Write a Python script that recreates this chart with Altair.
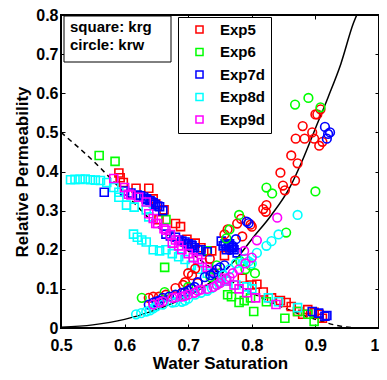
import altair as alt
import pandas as pd

# ---------------- model curves ----------------
krw_model_sw = [0.50, 0.55, 0.60, 0.65, 0.70, 0.75, 0.78, 0.80, 0.83, 0.86, 0.88, 0.90, 0.92, 0.94, 0.96, 0.965]
krw_model_kr = [0.002, 0.008, 0.022, 0.047, 0.082, 0.135, 0.185, 0.227, 0.287, 0.36, 0.43, 0.51, 0.59, 0.675, 0.78, 0.80]
krg_model_sw = [0.50, 0.55, 0.60, 0.65, 0.70, 0.75, 0.80, 0.85, 0.90, 0.93, 0.96, 1.00]
krg_model_kr = [0.50, 0.428, 0.345, 0.262, 0.197, 0.138, 0.09, 0.052, 0.022, 0.008, 0.001, 0.0]

experiments = ["Exp5", "Exp6", "Exp7d", "Exp8d", "Exp9d"]
colors = ["#ff0000", "#00ff00", "#0000ff", "#00ffff", "#ff00ff"]

# ---------------- Exp5 ----------------
exp5_krg_sw = [0.591, 0.593, 0.598, 0.618, 0.638, 0.645, 0.649, 0.662, 0.654, 0.68, 0.688, 0.698, 0.711, 0.72,
               0.737, 0.757, 0.785, 0.80, 0.808, 0.818, 0.831, 0.845, 0.854, 0.862, 0.872, 0.88, 0.888, 0.898,
               0.906, 0.911]
exp5_krg_kr = [0.396, 0.384, 0.372, 0.357, 0.357, 0.33, 0.317, 0.302, 0.277, 0.267, 0.259, 0.227, 0.217, 0.205,
               0.197, 0.185, 0.127, 0.11, 0.112, 0.092, 0.077, 0.07, 0.065, 0.055, 0.042, 0.035, 0.047, 0.04,
               0.035, 0.025]
exp5_krw_sw = [0.638, 0.645, 0.654, 0.665, 0.68, 0.692, 0.695, 0.70, 0.706, 0.711, 0.715, 0.734, 0.757, 0.762,
               0.777, 0.785, 0.783, 0.798, 0.80, 0.818, 0.822, 0.823, 0.845, 0.849, 0.852, 0.862, 0.868, 0.872,
               0.869, 0.88, 0.883, 0.895, 0.898, 0.90, 0.903, 0.906, 0.908, 0.911]
exp5_krw_kr = [0.077, 0.08, 0.08, 0.085, 0.102, 0.11, 0.117, 0.14, 0.135, 0.152, 0.115, 0.177, 0.239, 0.252,
               0.267, 0.234, 0.279, 0.264, 0.259, 0.304, 0.297, 0.314, 0.397, 0.364, 0.352, 0.441, 0.377, 0.421,
               0.484, 0.516, 0.484, 0.50, 0.484, 0.546, 0.546, 0.466, 0.559, 0.476]

# ---------------- Exp6 ----------------
exp6_krg_sw = [0.56, 0.585, 0.665, 0.663, 0.729, 0.762, 0.768, 0.78, 0.788, 0.798, 0.803, 0.823, 0.852, 0.872,
               0.888, 0.898]
exp6_krg_kr = [0.441, 0.426, 0.277, 0.155, 0.197, 0.085, 0.08, 0.065, 0.07, 0.077, 0.042, 0.067, 0.025, 0.042,
               0.035, 0.017]
exp6_krw_sw = [0.627, 0.663, 0.70, 0.735, 0.745, 0.76, 0.765, 0.78, 0.782, 0.79, 0.798, 0.805, 0.823, 0.832,
               0.854, 0.868, 0.889, 0.90, 0.908]
exp6_krw_kr = [0.077, 0.092, 0.105, 0.13, 0.16, 0.229, 0.252, 0.289, 0.17, 0.15, 0.16, 0.14, 0.359, 0.344,
               0.244, 0.571, 0.588, 0.349, 0.564]

# ---------------- Exp7d ----------------
exp7_krg_sw = [0.568, 0.60, 0.61, 0.62, 0.625, 0.63, 0.634, 0.635, 0.64, 0.642, 0.645, 0.648, 0.652, 0.655, 0.66,
               0.665, 0.672, 0.68, 0.685, 0.69, 0.695, 0.70, 0.705, 0.706, 0.71, 0.715, 0.72, 0.73, 0.752, 0.755,
               0.758, 0.76, 0.763, 0.765, 0.768, 0.77, 0.772, 0.777, 0.895, 0.905, 0.915, 0.918]
exp7_krg_kr = [0.347, 0.35, 0.345, 0.34, 0.338, 0.335, 0.33, 0.328, 0.325, 0.322, 0.32, 0.316, 0.312, 0.31, 0.30,
               0.24, 0.235, 0.232, 0.225, 0.222, 0.22, 0.215, 0.212, 0.21, 0.205, 0.20, 0.20, 0.195, 0.222, 0.21,
               0.215, 0.20, 0.21, 0.215, 0.205, 0.205, 0.20, 0.192, 0.042, 0.038, 0.03, 0.032]
exp7_krw_sw = [0.638, 0.645, 0.65, 0.655, 0.66, 0.67, 0.68, 0.69, 0.695, 0.70, 0.705, 0.71, 0.715, 0.726, 0.735,
               0.74, 0.745, 0.75, 0.757, 0.765, 0.77, 0.775, 0.792, 0.795, 0.915, 0.918, 0.92, 0.923]
exp7_krw_kr = [0.06, 0.065, 0.068, 0.07, 0.077, 0.08, 0.085, 0.09, 0.092, 0.095, 0.10, 0.105, 0.117, 0.13, 0.135,
               0.14, 0.15, 0.155, 0.16, 0.20, 0.21, 0.227, 0.272, 0.268, 0.514, 0.484, 0.496, 0.50]

# ---------------- Exp8d ----------------
exp8_krg_sw = [0.515, 0.522, 0.53, 0.538, 0.546, 0.554, 0.562, 0.572, 0.583, 0.591, 0.591, 0.603, 0.615, 0.634,
               0.638, 0.614, 0.62, 0.627, 0.634, 0.645, 0.655, 0.665, 0.675, 0.685, 0.695, 0.705, 0.715, 0.73,
               0.745, 0.76, 0.775, 0.792, 0.80, 0.826, 0.842, 0.872]
exp8_krg_kr = [0.379, 0.38, 0.38, 0.381, 0.379, 0.378, 0.377, 0.372, 0.359, 0.347, 0.334, 0.314, 0.309, 0.302,
               0.284, 0.24, 0.232, 0.225, 0.22, 0.20, 0.197, 0.20, 0.19, 0.182, 0.175, 0.16, 0.15, 0.14,
               0.13, 0.12, 0.11, 0.105, 0.10, 0.077, 0.067, 0.052]
exp8_krw_sw = [0.618, 0.626, 0.634, 0.64, 0.645, 0.65, 0.66, 0.675, 0.68, 0.69, 0.695, 0.70, 0.711, 0.72, 0.73,
               0.737, 0.745, 0.752, 0.755, 0.76, 0.765, 0.775, 0.785, 0.79, 0.795, 0.80, 0.808, 0.823, 0.831,
               0.842, 0.872]
exp8_krw_kr = [0.035, 0.038, 0.042, 0.045, 0.05, 0.055, 0.06, 0.065, 0.066, 0.067, 0.07, 0.075, 0.085, 0.09, 0.095,
               0.102, 0.11, 0.117, 0.135, 0.125, 0.15, 0.165, 0.165, 0.177, 0.17, 0.165, 0.192, 0.21, 0.222,
               0.239, 0.289]

# ---------------- Exp9d ----------------
exp9_krg_sw = [0.583, 0.60, 0.606, 0.61, 0.622, 0.634, 0.638, 0.645, 0.649, 0.652, 0.662, 0.665, 0.672, 0.675,
               0.68, 0.685, 0.69, 0.70, 0.708, 0.715, 0.722, 0.73, 0.735, 0.745, 0.752, 0.76, 0.772, 0.78, 0.792,
               0.806, 0.838]
exp9_krg_kr = [0.382, 0.359, 0.342, 0.34, 0.334, 0.322, 0.292, 0.28, 0.267, 0.267, 0.254, 0.25, 0.239, 0.217,
               0.225, 0.21, 0.20, 0.19, 0.18, 0.175, 0.167, 0.155, 0.145, 0.14, 0.127, 0.12, 0.11, 0.10, 0.09,
               0.077, 0.06]
exp9_krw_sw = [0.645, 0.655, 0.66, 0.675, 0.68, 0.69, 0.695, 0.70, 0.71, 0.715, 0.72, 0.73, 0.74, 0.745, 0.75,
               0.76, 0.765, 0.77, 0.78, 0.788, 0.79, 0.80, 0.808, 0.84]
exp9_krw_kr = [0.06, 0.065, 0.068, 0.077, 0.078, 0.08, 0.082, 0.085, 0.09, 0.095, 0.098, 0.10, 0.105, 0.11, 0.115,
               0.125, 0.13, 0.14, 0.15, 0.197, 0.165, 0.18, 0.224, 0.282]

x_ticks = [0.5, 0.6, 0.7, 0.8, 0.9, 1.0]
y_ticks = [0.0, 0.1, 0.2, 0.3, 0.4, 0.5, 0.6, 0.7, 0.8]
annot_lines = ["square: krg", "circle: krw"]

FONT = "Liberation Sans"


def build(groups):
    rows = []
    for name, sw, kr in groups:
        for a, b in zip(sw, kr):
            rows.append({"exp": name, "sw": a, "kr": b})
    return pd.DataFrame(rows)


krg_df = build([("Exp5", exp5_krg_sw, exp5_krg_kr), ("Exp6", exp6_krg_sw, exp6_krg_kr),
                ("Exp7d", exp7_krg_sw, exp7_krg_kr), ("Exp8d", exp8_krg_sw, exp8_krg_kr),
                ("Exp9d", exp9_krg_sw, exp9_krg_kr)])
krw_df = build([("Exp5", exp5_krw_sw, exp5_krw_kr), ("Exp6", exp6_krw_sw, exp6_krw_kr),
                ("Exp7d", exp7_krw_sw, exp7_krw_kr), ("Exp8d", exp8_krw_sw, exp8_krw_kr),
                ("Exp9d", exp9_krw_sw, exp9_krw_kr)])
krw_line = pd.DataFrame({"sw": krw_model_sw, "kr": krw_model_kr})
krg_line = pd.DataFrame({"sw": krg_model_sw, "kr": krg_model_kr})

xscale = alt.Scale(domain=[0.5, 1.0], nice=False, zero=False)
yscale = alt.Scale(domain=[0.0, 0.8], nice=False, zero=False)

color = alt.Color(
    "exp:N",
    scale=alt.Scale(domain=experiments, range=colors),
    legend=alt.Legend(
        title=None, orient="none", legendX=117, legendY=2,
        symbolType="square", symbolSize=50, symbolStrokeWidth=1.5,
        labelFont=FONT, labelFontSize=15, labelFontWeight="bold", labelColor="black",
        rowPadding=6.5, padding=5, symbolOffset=9, labelOffset=13,
        strokeColor="black", fillColor="white",
    ),
)

common_axis = dict(labelFont=FONT, labelFontSize=16, labelFontWeight="bold", labelColor="black",
                   titleFont=FONT, titleFontSize=17, titleFontWeight="bold", titleColor="black",
                   tickColor="black", tickWidth=1, tickSize=4, offset=-4, domain=False, grid=False)

x_bottom = alt.Axis(orient="bottom", values=x_ticks, title="Water Saturation", labelFlush=False,
                    labelPadding=9, titlePadding=2,
                    labelAlign={"condition": {"test": "datum.value >= 1", "value": "right"}, "value": "center"},
                    labelExpr="datum.value == 1 ? '1' : format(datum.value, '.1f')", **common_axis)
y_left = alt.Axis(orient="left", values=y_ticks, title="Relative Permeability", labelPadding=3,
                  titlePadding=4,
                  labelExpr="datum.value == 0 ? '0' : format(datum.value, '.1f')", **common_axis)
x_top = alt.Axis(orient="top", values=x_ticks, title=None, labels=False, tickColor="black", tickSize=4,
                 offset=-4, domain=False, grid=False)
y_right = alt.Axis(orient="right", values=y_ticks, title=None, labels=False, tickColor="black", tickSize=4,
                   offset=-4, domain=False, grid=False)

squares = alt.Chart(krg_df).mark_point(shape="square", filled=False, size=64, strokeWidth=1.6,
                                        opacity=1, clip=True).encode(
    x=alt.X("sw:Q", scale=xscale, axis=None),
    y=alt.Y("kr:Q", scale=yscale, axis=None),
    color=color,
)
circles = alt.Chart(krw_df).mark_point(shape="circle", filled=False, size=75, strokeWidth=1.6,
                                        opacity=1, clip=True).encode(
    x=alt.X("sw:Q", scale=xscale, axis=None),
    y=alt.Y("kr:Q", scale=yscale, axis=None),
    color=color,
)

line_w = alt.Chart(krw_line).mark_line(color="black", strokeWidth=1.5, interpolate="monotone",
                                       clip=True).encode(
    x=alt.X("sw:Q", scale=xscale, axis=x_bottom),
    y=alt.Y("kr:Q", scale=yscale, axis=y_left),
)
line_g = alt.Chart(krg_line).mark_line(color="black", strokeWidth=1.5, strokeDash=[5, 4],
                                       interpolate="monotone", clip=True).encode(
    x=alt.X("sw:Q", scale=xscale, axis=x_top),
    y=alt.Y("kr:Q", scale=yscale, axis=y_right),
)

box = alt.Chart(alt.Data(values=[{}])).mark_rect(fill="white", stroke="black", strokeWidth=1).encode(
    x=alt.value(3), x2=alt.value(110), y=alt.value(1), y2=alt.value(47)
)
annot = alt.Chart(alt.Data(values=[{}])).mark_text(
    text=annot_lines, align="left", baseline="middle", font=FONT, fontSize=15, fontWeight="bold",
    color="black", lineHeight=18
).encode(x=alt.value(9), y=alt.value(12))

chart = alt.layer(line_g, line_w, squares, circles, box, annot).resolve_axis(
    x="independent", y="independent"
).properties(
    width=318, height=313,
    autosize=alt.AutoSizeParams(type="none"),
    padding={"left": 53, "top": 7, "right": 0, "bottom": 44},
    background="white",
).configure_view(stroke="black", strokeWidth=2)

chart.save("out.html", embed_options={"renderer": "svg", "actions": False})
